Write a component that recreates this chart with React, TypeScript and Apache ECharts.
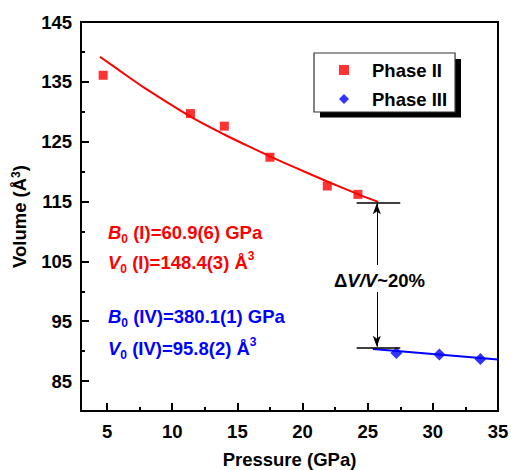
import React, { useEffect, useRef } from "react";
import * as echarts from "echarts";

// Measured unit-cell volumes (Å^3) versus pressure (GPa)
const phaseIIPressure = [4.7, 11.4, 14.0, 17.5, 21.9, 24.25];
const phaseIIVolume = [136.1, 129.7, 127.6, 122.4, 117.6, 116.2];
const phaseIIIPressure = [27.2, 30.5, 33.65];
const phaseIIIVolume = [89.7, 89.45, 88.7];

// Equation-of-state fit curves
const fitIIPressure = [4.45, 6.6, 7.9, 11.4, 14.0, 15.6, 17.5, 19.4, 21.9, 24.25, 25.8];
const fitIIVolume = [139.2, 135.9, 133.95, 129.2, 126.2, 124.5, 122.55, 120.7, 118.35, 116.25, 114.95];
const fitIIIPressure = [25.4, 35.0];
const fitIIIVolume = [90.35, 88.6];

// Transition markers
const capUpper = { from: 24.15, to: 27.5, volume: 114.8 };
const capLower = { from: 24.15, to: 27.5, volume: 90.65 };
const arrowPressure = 25.7;
const arrowUpper = [104.4, 114.7];
const arrowLower = [99.9, 90.75];

// Tick values
const xMajorTicks = [5, 10, 15, 20, 25, 30, 35];
const xMinorTicks = [7.5, 12.5, 17.5, 22.5, 27.5, 32.5];
const yMajorTicks = [85, 95, 105, 115, 125, 135, 145];
const yMinorTicks = [90, 100, 110, 120, 130, 140];

// Fit parameters
const fitI = { b0: "60.9(6)", v0: "148.4(3)" };
const fitIV = { b0: "380.1(1)", v0: "95.8(2)" };

const FONT = "'Liberation Sans', Arial, sans-serif";
const FS = 18.5;
const RED = "#ff0000";
const BLUE = "#0000ff";

const LEGEND_LEFT = 314;
const LEGEND_TOP = 53;
const LEGEND_W = 141;
const LEGEND_H = 58.5;

const zip = (xs: number[], ys: number[]) => xs.map((x, i) => [x, ys[i]]);

function richFor(color: string) {
  return {
    it: { fontFamily: FONT, fontSize: FS, fontWeight: "bold", fontStyle: "italic", fill: color, lineHeight: 25 },
    n: { fontFamily: FONT, fontSize: FS, fontWeight: "bold", fill: color, lineHeight: 25 },
    sub: { fontFamily: FONT, fontSize: 12, fontWeight: "bold", fill: color, lineHeight: 11, verticalAlign: "bottom" },
    sup: { fontFamily: FONT, fontSize: 12, fontWeight: "bold", fill: color, lineHeight: 15, verticalAlign: "top" },
  };
}

function fitText(x: number, y: number, text: string, color: string) {
  return {
    type: "text",
    left: x,
    top: y,
    z: 10,
    style: {
      text,
      rich: richFor(color),
      fill: color,
      font: `bold ${FS}px ${FONT}`,
    },
  };
}

export default function App() {
  const ref = useRef<HTMLDivElement>(null);

  useEffect(() => {
    if (!ref.current) return;
    const chart = echarts.init(ref.current, null, { renderer: "svg" });

    const axisLabelStyle = {
      fontFamily: FONT,
      fontSize: FS,
      fontWeight: "bold",
      color: "#000",
    };

    const option = {
      animation: false,
      backgroundColor: "#fff",
      grid: {
        left: 81,
        right: 13,
        top: 22,
        bottom: 59,
        containLabel: false,
        outerBoundsMode: "none",
        show: true,
        borderColor: "#000",
        borderWidth: 2,
        backgroundColor: "transparent",
      },
      legend: {
        data: [
          { name: "Phase II", icon: "rect" },
          { name: "Phase III", icon: "diamond" },
        ],
        orient: "vertical",
        left: LEGEND_LEFT,
        top: LEGEND_TOP,
        itemWidth: 10,
        itemHeight: 10,
        itemGap: 9,
        padding: [7, 8, 3, 25],
        backgroundColor: "#fff",
        borderColor: "#333",
        borderWidth: 1.2,
        z: 5,
        textStyle: {
          fontFamily: FONT,
          fontSize: FS,
          fontWeight: "bold",
          color: "#000",
          lineHeight: 20,
          padding: [0, 0, 0, 18],
        },
      },
      xAxis: [
        {
          type: "value",
          min: 3,
          max: 35,
          name: "Pressure (GPa)",
          nameLocation: "middle",
          nameGap: 39,
          nameTextStyle: { ...axisLabelStyle },
          axisLine: { show: true, onZero: false, lineStyle: { color: "#000", width: 2 } },
          axisTick: {
            show: true,
            inside: true,
            length: 8,
            customValues: xMajorTicks,
            lineStyle: { color: "#000", width: 2 },
          },
          axisLabel: { ...axisLabelStyle, margin: 11, customValues: xMajorTicks },
          splitLine: { show: false },
        },
        {
          type: "value",
          min: 3,
          max: 35,
          position: "bottom",
          axisLine: { show: false },
          axisTick: {
            show: true,
            inside: true,
            length: 4,
            customValues: xMinorTicks,
            lineStyle: { color: "#000", width: 2 },
          },
          axisLabel: { show: false },
          splitLine: { show: false },
        },
      ],
      yAxis: [
        {
          type: "value",
          min: 80,
          max: 145,
          name: "Volume (Å{sup|3})",
          nameLocation: "middle",
          nameGap: 52,
          nameTextStyle: {
            ...axisLabelStyle,
            rich: {
              sup: { fontFamily: FONT, fontSize: 12, fontWeight: "bold", color: "#000", lineHeight: 15, verticalAlign: "top" },
            },
          },
          axisLine: { show: true, onZero: false, lineStyle: { color: "#000", width: 2 } },
          axisTick: {
            show: true,
            inside: true,
            length: 8,
            customValues: yMajorTicks,
            lineStyle: { color: "#000", width: 2 },
          },
          axisLabel: { ...axisLabelStyle, margin: 9, customValues: yMajorTicks },
          splitLine: { show: false },
        },
        {
          type: "value",
          min: 80,
          max: 145,
          position: "left",
          axisLine: { show: false },
          axisTick: {
            show: true,
            inside: true,
            length: 4,
            customValues: yMinorTicks,
            lineStyle: { color: "#000", width: 2 },
          },
          axisLabel: { show: false },
          splitLine: { show: false },
        },
      ],
      series: [
        {
          name: "Phase II fit",
          type: "line",
          data: zip(fitIIPressure, fitIIVolume),
          smooth: 0.3,
          showSymbol: false,
          lineStyle: { color: RED, width: 2 },
          z: 2,
        },
        {
          name: "Phase III fit",
          type: "line",
          data: zip(fitIIIPressure, fitIIIVolume),
          showSymbol: false,
          lineStyle: { color: BLUE, width: 2 },
          z: 2,
        },
        {
          name: "Phase II",
          type: "scatter",
          symbol: "rect",
          symbolSize: 9,
          itemStyle: { color: RED },
          data: zip(phaseIIPressure, phaseIIVolume),
          z: 3,
        },
        {
          name: "Phase III",
          type: "scatter",
          symbol: "diamond",
          symbolSize: 12,
          itemStyle: { color: BLUE },
          data: zip(phaseIIIPressure, phaseIIIVolume),
          z: 3,
        },
        {
          name: "markers",
          type: "line",
          data: [],
          silent: true,
          markLine: {
            silent: true,
            animation: false,
            label: { show: false },
            symbol: ["none", "none"],
            lineStyle: { color: "#000", width: 1.5, type: "solid" },
            data: [
              [{ coord: [capUpper.from, capUpper.volume] }, { coord: [capUpper.to, capUpper.volume] }],
              [{ coord: [capLower.from, capLower.volume] }, { coord: [capLower.to, capLower.volume] }],
            ],
          },
        },
        {
          name: "arrows",
          type: "line",
          data: [],
          silent: true,
          markLine: {
            silent: true,
            animation: false,
            label: { show: false },
            symbol: ["none", "arrow"],
            symbolSize: [6, 11],
            lineStyle: { color: "#000", width: 1, type: "solid" },
            data: [
              [{ coord: [arrowPressure, arrowUpper[0]] }, { coord: [arrowPressure, arrowUpper[1]] }],
              [{ coord: [arrowPressure, arrowLower[0]] }, { coord: [arrowPressure, arrowLower[1]] }],
            ],
          },
        },
      ],
      graphic: [
        // drop shadow behind the legend box
        {
          type: "rect",
          left: LEGEND_LEFT + 6,
          top: LEGEND_TOP + 6,
          z: 1,
          shape: { width: LEGEND_W, height: LEGEND_H },
          style: { fill: "#000" },
        },
        fitText(108, 222.5, `{it|B}{sub|0}{n| (I)=${fitI.b0} GPa}`, RED),
        fitText(108, 250, `{it|V}{sub|0}{n| (I)=${fitI.v0} Å}{sup|3}`, RED),
        fitText(108, 307, `{it|B}{sub|0}{n| (IV)=${fitIV.b0} GPa}`, BLUE),
        fitText(108, 336, `{it|V}{sub|0}{n| (IV)=${fitIV.v0} Å}{sup|3}`, BLUE),
        {
          type: "text",
          x: 379.5,
          y: 280,
          z: 10,
          style: {
            text: "{n|Δ}{it|V/V}{n|~20%}",
            align: "center",
            verticalAlign: "middle",
            rich: {
              n: { fontFamily: FONT, fontSize: FS, fontWeight: "bold", fill: "#000" },
              it: { fontFamily: FONT, fontSize: FS, fontWeight: "bold", fontStyle: "italic", fill: "#000" },
            },
            font: `bold ${FS}px ${FONT}`,
            fill: "#000",
          },
        },
      ],
    };

    chart.setOption(option as any);
    return () => chart.dispose();
  }, []);

  return (
    <div
      ref={ref}
      style={{ position: "absolute", left: 0, top: 0, width: 511, height: 470 }}
    />
  );
}
